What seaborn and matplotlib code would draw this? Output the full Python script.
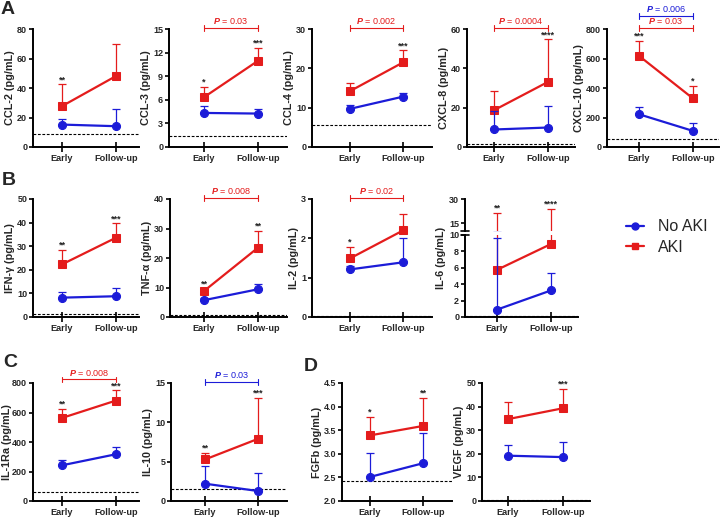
import matplotlib
matplotlib.use("Agg")
import matplotlib.pyplot as plt
from matplotlib.lines import Line2D
import seaborn as sns
import numpy as np

sns.set_theme(style="ticks")
plt.rcParams['font.family'] = ['Liberation Sans', 'DejaVu Sans']
plt.rcParams['font.weight'] = 'bold'
plt.rcParams['axes.labelweight'] = 'bold'
plt.rcParams['mathtext.fontset'] = 'custom'
plt.rcParams['mathtext.it'] = 'Liberation Sans:italic'
plt.rcParams['mathtext.rm'] = 'Liberation Sans'

RED = '#e41c1c'
BLUE = '#1c1cd8'

timepoints = ['Early', 'Follow-up']

# ---- data: group means and top of the (upper) error bar ----
ccl2_no, ccl2_no_top = [15.2, 14.1], [19.3, 25.6]
ccl2_aki, ccl2_aki_top = [27.7, 48.1], [42.4, 69.6]
ccl2_lod = 9.1

ccl3_no, ccl3_no_top = [4.33, 4.25], [5.18, 4.8]
ccl3_aki, ccl3_aki_top = [6.33, 10.96], [7.64, 12.6]
ccl3_lod = 1.45

ccl4_no, ccl4_no_top = [9.7, 12.8], [10.8, 13.8]
ccl4_aki, ccl4_aki_top = [14.2, 21.5], [16.2, 24.6]
ccl4_lod = 5.6

cxcl8_no, cxcl8_no_top = [8.9, 9.9], [18.5, 20.7]
cxcl8_aki, cxcl8_aki_top = [18.7, 33.1], [28.4, 54.7]
cxcl8_lod = 1.4

cxcl10_no, cxcl10_no_top = [222, 109], [272, 163]
cxcl10_aki, cxcl10_aki_top = [618, 329], [720, 415]
cxcl10_lod = 57

ifng_no, ifng_no_top = [8.2, 8.8], [10.6, 12.5]
ifng_aki, ifng_aki_top = [22.3, 33.6], [28.6, 39.7]
ifng_lod = 1.1

tnfa_no, tnfa_no_top = [5.7, 9.4], [6.5, 11.1]
tnfa_aki, tnfa_aki_top = [8.8, 23.5], [9.6, 29.2]
tnfa_lod = 0.8

il2_no, il2_no_top = [1.21, 1.39], [1.3, 2.0]
il2_aki, il2_aki_top = [1.49, 2.2], [1.78, 2.61]
il2_lod = 0.03

il6_no, il6_no_top = [0.9, 3.24], [9.6, 5.34]
il6_aki, il6_aki_top = [5.75, 8.9], [21.5, 24.0]
il6_lod = 0.1

il1ra_no, il1ra_no_top = [242, 317], [281, 366]
il1ra_aki, il1ra_aki_top = [563, 681], [626, 750]
il1ra_lod = 61

il10_no, il10_no_top = [2.2, 1.27], [4.4, 3.6]
il10_aki, il10_aki_top = [5.28, 7.9], [6.1, 13.1]
il10_lod = 1.52

fgfb_no, fgfb_no_top = [2.51, 2.80], [3.01, 3.44]
fgfb_aki, fgfb_aki_top = [3.39, 3.59], [3.78, 4.18]
fgfb_lod = 2.43

vegf_no, vegf_no_top = [19.2, 18.6], [23.8, 25.1]
vegf_aki, vegf_aki_top = [34.7, 39.3], [42.0, 47.6]
vegf_lod = 0.3

# significance stars above AKI bars (early, follow-up)
ccl2_stars = ['**', '']
ccl3_stars = ['*', '***']
ccl4_stars = ['', '***']
cxcl8_stars = ['', '****']
cxcl10_stars = ['***', '*']
ifng_stars = ['**', '***']
tnfa_stars = ['**', '**']
il2_stars = ['*', '']
il6_stars = ['**', '****']
il1ra_stars = ['**', '***']
il10_stars = ['**', '***']
fgfb_stars = ['*', '**']
vegf_stars = ['', '***']

# ---- figure ----
W, H = 721, 519
fig = plt.figure(figsize=(W / 100, H / 100), dpi=100)


def add_ax(L, E, F, R, top, bottom):
    ax = fig.add_axes([L / W, 1 - bottom / H, (R - L) / W, (bottom - top) / H])
    u = F - E
    ax.set_xlim((L - E) / u, 1 + (R - F) / u)
    return ax


def style(ax, ticks, ylabel, xaxis=True):
    sns.despine(ax=ax)
    for s in ['left', 'bottom']:
        ax.spines[s].set_linewidth(1.4)
        ax.spines[s].set_color('black')
    ax.set_yticks(ticks)
    ax.set_ylim(ticks[0], ticks[-1])
    ax.tick_params(axis='y', direction='out', length=3.2, width=1.2,
                   labelsize=6.5, pad=1.0, color='black')
    if xaxis:
        ax.set_xticks([0, 1])
        ax.set_xticklabels(timepoints)
        ax.tick_params(axis='x', direction='inout', length=7, width=1.2,
                       labelsize=6.6, pad=1.5, color='black')
    ax.set_ylabel(ylabel, fontsize=7.8, labelpad=1.2)
    ax.set_xlabel('')


def draw(ax, no, no_top, aki, aki_top, lod=None, marks=True):
    x = [0, 1]
    for mean, top, c, m, z in [(aki, aki_top, RED, 's', 3), (no, no_top, BLUE, 'o', 4)]:
        mean = np.array(mean, float)
        up = np.array(top, float) - mean
        ax.errorbar(x, mean, yerr=[np.zeros(2), up], fmt='none', ecolor=c,
                    elinewidth=0.9, capsize=3, capthick=0.9, zorder=z)
        if marks:
            sns.lineplot(x=x, y=mean, ax=ax, color=c, marker=m, markersize=5.8,
                         markeredgecolor=c, linewidth=1.6, errorbar=None,
                         legend=False, zorder=z + 0.5)
    if lod is not None:
        ax.axhline(lod, color='black', lw=0.8, ls=(0, (2.5, 1.5)), zorder=1)


def stars(ax, aki_top, labels):
    for i, s in enumerate(labels):
        if s:
            ax.annotate(s, (i, aki_top[i]), xytext=(0, 1.5), textcoords='offset points',
                        ha='center', va='baseline', fontsize=6.5, color='#222222')


def bracket(ax, text, color, level=1.012):
    tr = ax.get_xaxis_transform()
    ax.plot([0, 1], [level, level], color=color, lw=0.8, transform=tr, clip_on=False)
    for xx in [0, 1]:
        ax.plot([xx, xx], [level - 0.025, level + 0.025], color=color, lw=0.8,
                transform=tr, clip_on=False)
    ax.text(0.5, level + 0.015, r'$P$ = ' + text, color=color, fontsize=6.5,
            fontweight='normal', ha='center', va='bottom', transform=tr)


rowA = (29, 147)
rowB = (199, 317)
rowC = (383, 501)

# Row A
ax = add_ax(33, 62, 116, 139, *rowA)
draw(ax, ccl2_no, ccl2_no_top, ccl2_aki, ccl2_aki_top, ccl2_lod)
style(ax, [0, 20, 40, 60, 80], 'CCL-2 (pg/mL)')
stars(ax, ccl2_aki_top, ccl2_stars)

ax = add_ax(169, 204, 258, 287, *rowA)
draw(ax, ccl3_no, ccl3_no_top, ccl3_aki, ccl3_aki_top, ccl3_lod)
style(ax, [0, 3, 6, 9, 12, 15], 'CCL-3 (pg/mL)')
stars(ax, ccl3_aki_top, ccl3_stars)
bracket(ax, '0.03', RED)

ax = add_ax(312, 350, 403, 432, *rowA)
draw(ax, ccl4_no, ccl4_no_top, ccl4_aki, ccl4_aki_top, ccl4_lod)
style(ax, [0, 10, 20, 30], 'CCL-4 (pg/mL)')
stars(ax, ccl4_aki_top, ccl4_stars)
bracket(ax, '0.002', RED)

ax = add_ax(467, 494, 548, 575, *rowA)
draw(ax, cxcl8_no, cxcl8_no_top, cxcl8_aki, cxcl8_aki_top, cxcl8_lod)
style(ax, [0, 20, 40, 60], 'CXCL-8 (pg/mL)')
stars(ax, cxcl8_aki_top, cxcl8_stars)
bracket(ax, '0.0004', RED)

ax = add_ax(607, 639, 693, 719, *rowA)
draw(ax, cxcl10_no, cxcl10_no_top, cxcl10_aki, cxcl10_aki_top, cxcl10_lod)
style(ax, [0, 200, 400, 600, 800], 'CXCL-10 (pg/mL)')
stars(ax, cxcl10_aki_top, cxcl10_stars)
bracket(ax, '0.03', RED)
bracket(ax, '0.006', BLUE, level=1.11)

# Row B
ax = add_ax(33, 62, 116, 139, *rowB)
draw(ax, ifng_no, ifng_no_top, ifng_aki, ifng_aki_top, ifng_lod)
style(ax, [0, 10, 20, 30, 40, 50], 'IFN-γ (pg/mL)')
stars(ax, ifng_aki_top, ifng_stars)

ax = add_ax(170, 204, 258, 287, *rowB)
draw(ax, tnfa_no, tnfa_no_top, tnfa_aki, tnfa_aki_top, tnfa_lod)
style(ax, [0, 10, 20, 30, 40], 'TNF-α (pg/mL)')
stars(ax, tnfa_aki_top, tnfa_stars)
bracket(ax, '0.008', RED)

ax = add_ax(312, 350, 403, 432, *rowB)
draw(ax, il2_no, il2_no_top, il2_aki, il2_aki_top, il2_lod)
style(ax, [0, 1, 2, 3], 'IL-2 (pg/mL)')
stars(ax, il2_aki_top, il2_stars)
bracket(ax, '0.02', RED)

# IL-6 with broken y axis
ax6t = add_ax(465, 497, 551, 578, 199.3, 231.3)
draw(ax6t, il6_no, il6_no_top, il6_aki, il6_aki_top, marks=False)
style(ax6t, [10, 15, 30], '', xaxis=False)
ax6t.set_yticks([15, 30])
ax6t.set_ylim(10, 30)
ax6t.spines['bottom'].set_visible(False)
ax6t.set_xticks([])
stars(ax6t, il6_aki_top, il6_stars)

ax6b = add_ax(465, 497, 551, 578, 235, 317)
draw(ax6b, il6_no, il6_no_top, il6_aki, il6_aki_top, il6_lod)
style(ax6b, [0, 2, 4, 6, 8, 10], 'IL-6 (pg/mL)')
ax6b.yaxis.set_label_coords(-0.17, 0.72)
for yy in [231.3, 235]:
    fig.add_artist(Line2D([461 / W, 469 / W], [1 - yy / H, 1 - yy / H],
                          color='black', lw=1.2))

# Row C / D
ax = add_ax(33, 62, 116, 139, *rowC)
draw(ax, il1ra_no, il1ra_no_top, il1ra_aki, il1ra_aki_top, il1ra_lod)
style(ax, [0, 200, 400, 600, 800], 'IL-1Ra (pg/mL)')
ax.yaxis.labelpad = 0.3
stars(ax, il1ra_aki_top, il1ra_stars)
bracket(ax, '0.008', RED, level=1.03)

ax = add_ax(171, 205, 258, 287, *rowC)
draw(ax, il10_no, il10_no_top, il10_aki, il10_aki_top, il10_lod)
style(ax, [0, 5, 10, 15], 'IL-10 (pg/mL)')
stars(ax, il10_aki_top, il10_stars)
bracket(ax, '0.03', BLUE)

ax = add_ax(342, 370, 423, 452, *rowC)
draw(ax, fgfb_no, fgfb_no_top, fgfb_aki, fgfb_aki_top, fgfb_lod)
style(ax, [2.0, 2.5, 3.0, 3.5, 4.0, 4.5], 'FGFb (pg/mL)')
ax.yaxis.set_major_formatter(matplotlib.ticker.FormatStrFormatter('%.1f'))
stars(ax, fgfb_aki_top, fgfb_stars)

ax = add_ax(482, 508, 563, 590, *rowC)
draw(ax, vegf_no, vegf_no_top, vegf_aki, vegf_aki_top, vegf_lod)
style(ax, [0, 10, 20, 30, 40, 50], 'VEGF (pg/mL)')
stars(ax, vegf_aki_top, vegf_stars)

# panel letters
for letter, x, y in [('A', 1, 1), ('B', 2, 172), ('C', 3, 354), ('D', 304, 358)]:
    fig.text(x / W, 1 - y / H, letter, fontsize=14, fontweight='bold', va='top', ha='left')

# legend
handles = [Line2D([], [], color=BLUE, marker='o', markersize=5, lw=1.6),
           Line2D([], [], color=RED, marker='s', markersize=5, lw=1.6)]
fig.legend(handles, ['No AKI', 'AKI'], loc='center left',
           bbox_to_anchor=(626 / W, 1 - 237 / H), frameon=False,
           prop={'size': 11.5, 'weight': 'normal'}, handlelength=1.1,
           handletextpad=0.9, labelspacing=0.35, borderaxespad=0, borderpad=0)

fig.savefig('out.png', dpi=100)
